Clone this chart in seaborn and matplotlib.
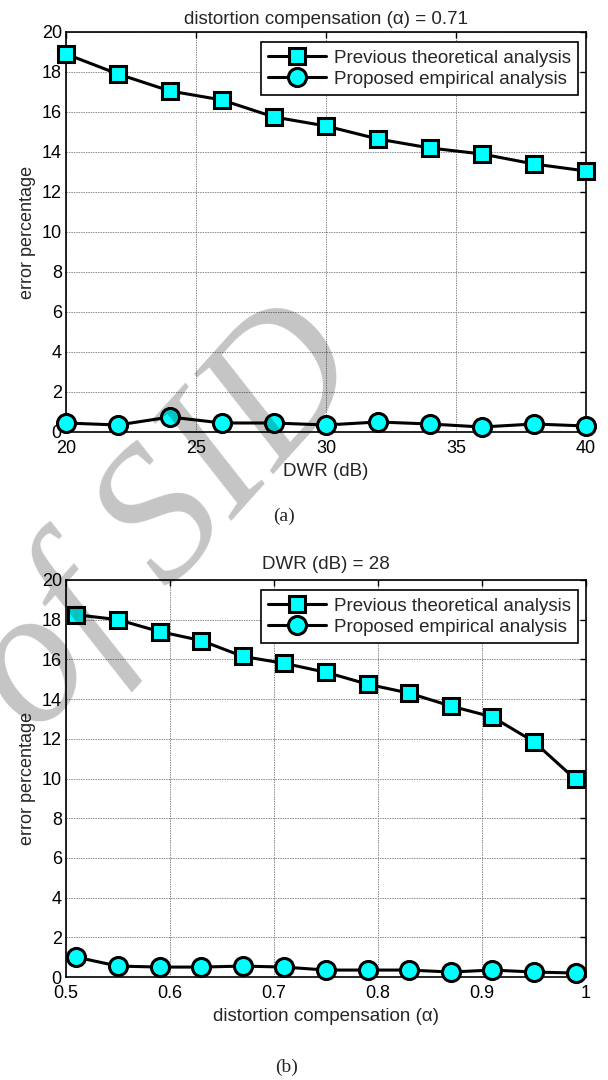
import matplotlib
matplotlib.use("Agg")
import matplotlib.pyplot as plt
import seaborn as sns
import pandas as pd
import numpy as np

# ---- data ----
dwr_db = [20, 22, 24, 26, 28, 30, 32, 34, 36, 38, 40]
prev_theory_a = [18.9, 17.9, 17.05, 16.6, 15.75, 15.3, 14.65, 14.2, 13.9, 13.4, 13.05]
proposed_emp_a = [0.45, 0.35, 0.75, 0.45, 0.45, 0.35, 0.5, 0.4, 0.25, 0.4, 0.3]

alpha_vals = [0.51, 0.55, 0.59, 0.63, 0.67, 0.71, 0.75, 0.79, 0.83, 0.87, 0.91, 0.95, 0.99]
prev_theory_b = [18.25, 18.0, 17.4, 16.95, 16.15, 15.8, 15.35, 14.75, 14.3, 13.65, 13.1, 11.85, 9.95]
proposed_emp_b = [1.0, 0.55, 0.5, 0.5, 0.55, 0.5, 0.35, 0.35, 0.35, 0.25, 0.35, 0.25, 0.2]

yticks = [0, 2, 4, 6, 8, 10, 12, 14, 16, 18, 20]
xticks_a = [20, 25, 30, 35, 40]
xticks_b = [0.5, 0.6, 0.7, 0.8, 0.9, 1.0]
xticklabels_b = ["0.5", "0.6", "0.7", "0.8", "0.9", "1"]
series_names = ["Previous theoretical analysis", "Proposed empirical analysis"]

sns.set_theme(style="white")
plt.rcParams['font.family'] = ['Liberation Sans', 'DejaVu Sans']
plt.rcParams['axes.edgecolor'] = 'black'
plt.rcParams['axes.linewidth'] = 1.2

fig = plt.figure(figsize=(6.08, 10.8), dpi=100)
ax1 = fig.add_axes([66/608, 1-432/1080, 520/608, 400/1080])
ax2 = fig.add_axes([66/608, 1-977/1080, 520/608, 397/1080])

cyan = '#00FFFF'
FS = 13.5

def draw(ax, x, y1, y2):
    df = pd.DataFrame({'x': list(x) * 2, 'y': list(y1) + list(y2),
                       'series': [series_names[0]] * len(x) + [series_names[1]] * len(x)})
    d1 = df[df.series == series_names[0]]
    d2 = df[df.series == series_names[1]]
    sns.lineplot(data=d1, x='x', y='y', ax=ax, color='black', lw=2.2,
                 marker='s', markersize=11, markerfacecolor=cyan,
                 markeredgecolor='black', markeredgewidth=2.2,
                 label=series_names[0], zorder=5, clip_on=False)
    sns.lineplot(data=d2, x='x', y='y', ax=ax, color='black', lw=2.2,
                 marker='o', markersize=13, markerfacecolor=cyan,
                 markeredgecolor='black', markeredgewidth=2.2,
                 label=series_names[1], zorder=5, clip_on=False)
    ax.set_ylim(0, 20)
    ax.set_yticks(yticks)
    ax.grid(True, color='#8a8a8a', lw=0.7, ls=(0, (1.5, 1)))
    ax.tick_params(direction='in', length=4, width=1, top=True, right=True,
                   labelsize=13, colors='black')
    ax.tick_params(axis='x', pad=6)
    ax.tick_params(axis='y', pad=3)
    for s in ax.spines.values():
        s.set_color('black')
    leg = ax.legend(loc='upper right', bbox_to_anchor=(0.985, 0.975),
                    borderaxespad=0, fancybox=False, framealpha=1,
                    edgecolor='black', fontsize=FS, handlelength=3.1,
                    borderpad=0.4, labelspacing=0.22, handletextpad=0.4)
    leg.get_frame().set_linewidth(1.2)
    leg.set_zorder(10)

draw(ax1, dwr_db, prev_theory_a, proposed_emp_a)
ax1.set_xlim(20, 40)
ax1.set_xticks(xticks_a)
ax1.set_xlabel("DWR (dB)", fontsize=FS, labelpad=4)
ax1.set_ylabel("error percentage", fontsize=13, labelpad=4)
ax1.set_title("distortion compensation (α) = 0.71", fontsize=FS, pad=6)

draw(ax2, alpha_vals, prev_theory_b, proposed_emp_b)
ax2.set_xlim(0.5, 1.0)
ax2.set_xticks(xticks_b)
ax2.set_xticklabels(xticklabels_b)
ax2.set_xlabel("distortion compensation (α)", fontsize=FS, labelpad=4)
ax2.set_ylabel("error percentage", fontsize=13, labelpad=4)
ax2.set_title("DWR (dB) = 28", fontsize=FS, pad=8)

fig.text(284/608, 1-516/1080, "(a)", fontsize=14, family='Liberation Serif',
         ha='center', va='center')
fig.text(287/608, 1-1067/1080, "(b)", fontsize=14, family='Liberation Serif',
         ha='center', va='center')

# watermark
fig.text(167/608, 1-522/1080, "of SID", fontsize=138, family='Liberation Serif',
         style='italic', color='black', alpha=0.23, rotation=48,
         ha='center', va='center', zorder=100)

fig.savefig("out.png", dpi=100)
